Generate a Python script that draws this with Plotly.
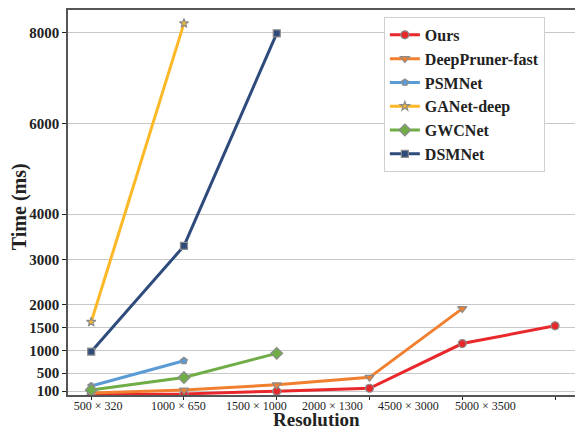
import plotly.graph_objects as go

x_idx = [0, 1, 2, 3, 4, 5]
x_labels = ["500 × 320", "1000 × 650", "1500 × 1000", "2000 × 1300", "4500 × 3000", "5000 × 3500"]
label_pos = [0.075, 0.94, 1.78, 2.60, 3.42, 4.25]

ours = [30, 40, 100, 165, 1150, 1540]
deeppruner = [60, 125, 240, 405, 1920]
psmnet = [215, 771]
ganet = [1625, 8205]
gwcnet = [126, 400, 934]
dsmnet = [970, 3300, 7985]

y_ticks = [100, 500, 1000, 1500, 2000, 3000, 4000, 6000, 8000]

series = [
    ("Ours", ours, "#e8282b", "circle", 8),
    ("DeepPruner-fast", deeppruner, "#f08030", "triangle-down", 8),
    ("PSMNet", psmnet, "#5b9bd5", "pentagon", 7),
    ("GANet-deep", ganet, "#fdb827", "star", 7),
    ("GWCNet", gwcnet, "#70ad47", "diamond", 9),
    ("DSMNet", dsmnet, "#2f4b7c", "square", 7),
]

fig = go.Figure()
for name, vals, color, sym, size in series:
    fig.add_trace(go.Scatter(
        x=x_idx[:len(vals)], y=vals, name=name, mode="lines+markers",
        line=dict(color=color, width=3),
        marker=dict(symbol=sym, size=size, color=color,
                    line=dict(color="#8c8c8c", width=1.2)),
    ))

font_family = "Liberation Serif, Times New Roman, serif"

fig.update_layout(
    width=575, height=431,
    margin=dict(l=68, r=0, t=10, b=36),
    plot_bgcolor="white", paper_bgcolor="white",
    font=dict(family=font_family, color="#222"),
    showlegend=True,
    legend=dict(
        x=0.623, y=0.982, xanchor="left", yanchor="top",
        bgcolor="white", bordercolor="#d0d0d0", borderwidth=1,
        font=dict(family=font_family, size=16, weight="bold", color="#222"),
        tracegroupgap=0, itemwidth=30,
    ),
    xaxis=dict(
        range=[-0.25, 5.215], automargin=False,
        tickmode="array", tickvals=label_pos, ticktext=x_labels,
        ticks="", showgrid=False, zeroline=False, ticklabelstandoff=-1,
        tickfont=dict(family=font_family, size=12, color="#222"),
        showline=True, linecolor="#555", linewidth=1.5, mirror=True,
        minor=dict(tickmode="array", tickvals=x_idx, ticks="outside",
                   ticklen=3, tickwidth=1.2, tickcolor="#222", showgrid=False),
    ),
    yaxis=dict(
        range=[16, 8500], automargin=False,
        tickmode="array", tickvals=y_ticks, ticktext=[str(v) for v in y_ticks],
        ticks="outside", ticklen=4, tickwidth=1.2, tickcolor="#222",
        showgrid=True, gridcolor="#c8c8c8", gridwidth=1.2, zeroline=False,
        tickfont=dict(family=font_family, size=15, weight="bold", color="#222"),
        showline=True, linecolor="#555", linewidth=1.5,
    ),
    annotations=[
        dict(text="Resolution", xref="paper", yref="paper", x=0.49, y=-0.0645,
             xanchor="center", yanchor="middle", showarrow=False, borderpad=0,
             font=dict(family=font_family, size=19, weight="bold", color="#222")),
        dict(text="Time (ms)", xref="paper", yref="paper", x=-0.095, y=0.49,
             xanchor="center", yanchor="middle", textangle=-90, showarrow=False,
             font=dict(family=font_family, size=20, weight="bold", color="#222")),
    ],
)

fig.write_html("out.html", config={"displayModeBar": False},
               post_script="document.body.style.margin='0';")
